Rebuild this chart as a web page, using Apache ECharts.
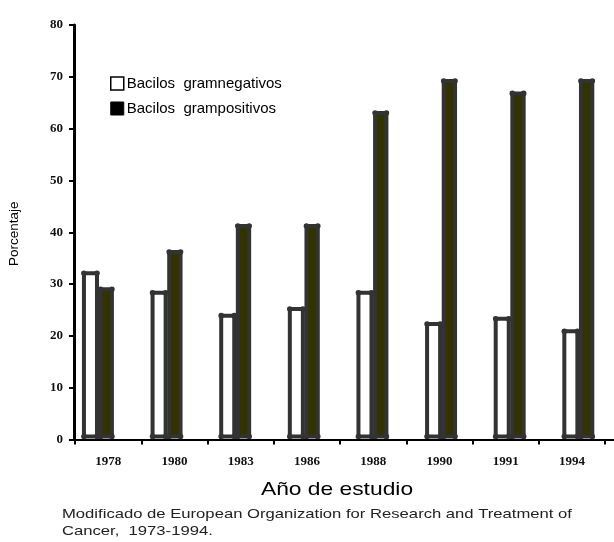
<!DOCTYPE html>
<html>
<head>
<meta charset="utf-8">
<script src="https://cdn.jsdelivr.net/npm/echarts@6/dist/echarts.min.js"></script>
<style>
  html, body { margin: 0; padding: 0; background: #fff; }
  #chart { width: 614px; height: 542px; }
</style>
</head>
<body>
<div id="chart"></div>
<script>
// ── datos ──
const years = ['1978', '1980', '1983', '1986', '1988', '1990', '1991', '1994'];
const gramNeg = [32.1, 28.3, 23.9, 25.2, 28.3, 22.3, 23.3, 20.9];
const gramPos = [29.0, 36.2, 41.2, 41.2, 63.0, 69.2, 66.8, 69.2];
const yTicks = { min: 0, max: 80, interval: 10 };

const EDGE = '#333333';
const OLIVE = '#333300';

/* barra con borde grueso y puntos en las esquinas */
function barRenderer(offsetFrac, widthFrac, fill) {
  return function (params, api) {
    const top = api.coord([api.value(0), api.value(1)]);
    const base = api.coord([api.value(0), 0]);
    const band = api.size([1, 0])[0];
    const w = band * widthFrac;
    const cx = top[0] + band * offsetFrac;
    const x0 = cx - w / 2, x1 = cx + w / 2;
    const y0 = top[1], y1 = base[1] - 3;
    const dot = (x, y) => ({ type: 'circle', shape: { cx: x, cy: y, r: 2.8 }, style: { fill: EDGE } });
    return {
      type: 'group',
      children: [
        { type: 'rect', shape: { x: x0, y: y0, width: w, height: y1 - y0 },
          style: { fill: fill, stroke: EDGE, lineWidth: 4 } },
        dot(x0, y0), dot(x1, y0), dot(x0, y1), dot(x1, y1),
      ],
    };
  };
}

const labelFont = { fontFamily: 'Liberation Serif', fontWeight: 'bold', fontSize: 13, color: '#111' };

const chart = echarts.init(document.getElementById('chart'));
chart.setOption({
  animation: false,
  backgroundColor: '#fff',
  // grid 0: barras y ejes; grid 1: marcas y rótulos de años (espaciado algo menor, como en el original)
  grid: [
    { left: 74, width: 549, top: 25, height: 414.5, outerBoundsMode: 'none' },
    { left: 75, width: 530, top: 25, height: 414.5, outerBoundsMode: 'none' },
  ],
  legend: {
    orient: 'vertical', left: 110, top: 76, padding: 0,
    itemWidth: 13, itemHeight: 13, itemGap: 10,
    formatter: name => name.replace(' ', '  '),
    textStyle: { fontFamily: 'Liberation Sans', fontSize: 15, color: '#000', padding: [0, 0, 0, -2] },
    data: [
      { name: 'Bacilos gramnegativos', icon: 'rect', itemStyle: { color: '#fff', borderColor: '#000', borderWidth: 1.5 } },
      { name: 'Bacilos grampositivos', icon: 'rect', itemStyle: { color: '#000', borderColor: '#000', borderWidth: 1 } },
    ],
  },
  xAxis: [
    {
      gridIndex: 0, type: 'category', data: years, boundaryGap: true,
      axisLine: { lineStyle: { color: '#000', width: 2 } },
      axisTick: { show: false }, axisLabel: { show: false },
    },
    {
      gridIndex: 1, type: 'category', data: years, boundaryGap: true,
      axisLine: { show: false },
      axisTick: { show: true, length: 5, lineStyle: { color: '#000', width: 2 } },
      axisLabel: Object.assign({ margin: 16 }, labelFont),
    },
  ],
  yAxis: [
    {
      gridIndex: 0, type: 'value', min: yTicks.min, max: yTicks.max, interval: yTicks.interval,
      splitLine: { show: false },
      axisLine: { show: true, lineStyle: { color: '#000', width: 3 } },
      axisTick: { show: true, length: 5, lineStyle: { color: '#000', width: 2 } },
      axisLabel: Object.assign({ margin: 11 }, labelFont),
    },
    {
      gridIndex: 1, type: 'value', min: yTicks.min, max: yTicks.max, show: false,
    },
  ],
  graphic: [
    { type: 'text', x: 337, y: 480, scaleX: 1.2, originX: 0,
      style: { text: 'Año de estudio', font: '19px "Liberation Sans"', fill: '#000', align: 'center' } },
    { type: 'text', rotation: Math.PI / 2, x: 7, y: 266,
      style: { text: 'Porcentaje', font: '13.5px "Liberation Sans"', fill: '#000' } },
    { type: 'text', x: 62, y: 506, scaleX: 1.28,
      style: { text: 'Modificado de European Organization for Research and Treatment of\nCancer,  1973-1994.',
               font: '13px "Liberation Sans"', fill: '#222', lineHeight: 17 } },
  ],
  series: [
    {
      name: 'Bacilos gramnegativos', type: 'custom',
      xAxisIndex: 0, yAxisIndex: 0,
      data: gramNeg.map((v, i) => [i, v]),
      encode: { x: 0, y: 1 },
      renderItem: barRenderer(-0.26, 0.19, '#fff'),
    },
    {
      name: 'Bacilos grampositivos', type: 'custom',
      xAxisIndex: 0, yAxisIndex: 0,
      data: gramPos.map((v, i) => [i, v]),
      encode: { x: 0, y: 1 },
      renderItem: barRenderer(-0.03, 0.165, OLIVE),
    },
  ],
});
</script>
</body>
</html>
